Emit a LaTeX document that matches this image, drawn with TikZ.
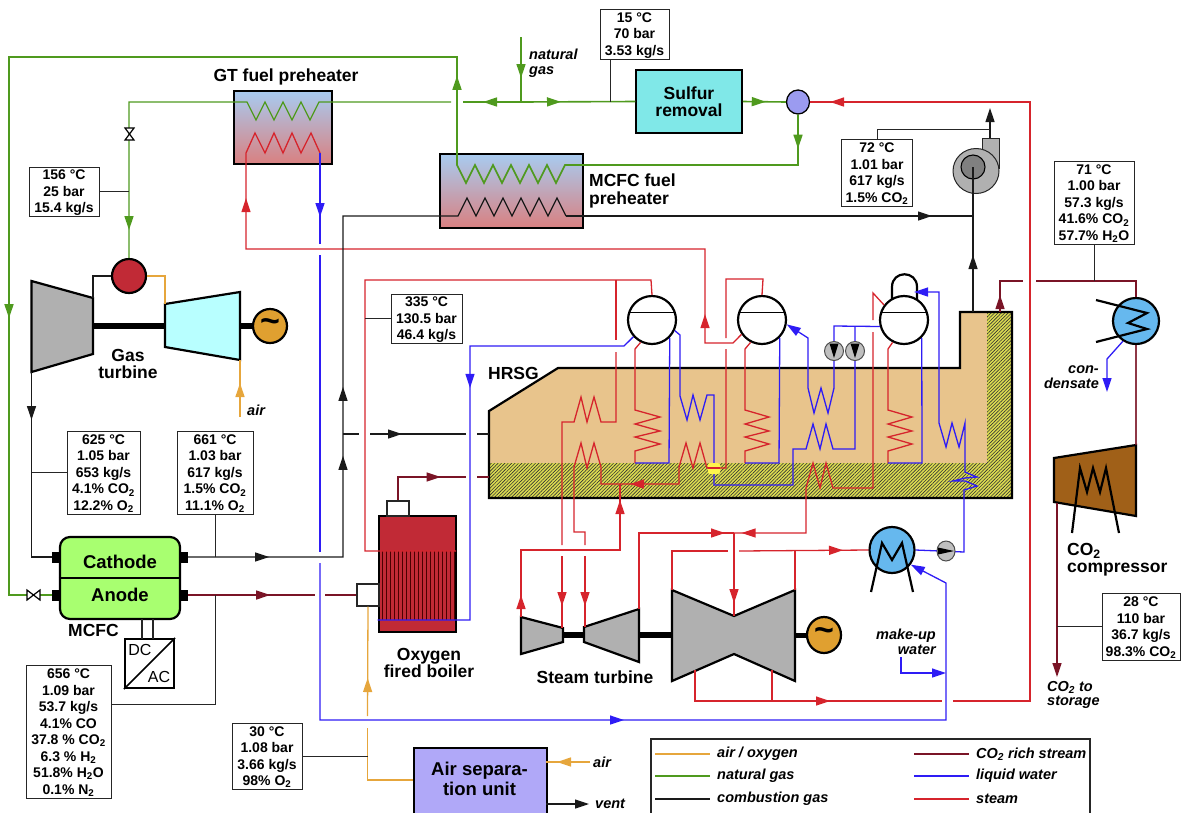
\documentclass[tikz,border=0pt]{standalone}
\usepackage{fontspec}
\setmainfont{Liberation Sans}
\usetikzlibrary{arrows.meta, calc, patterns.meta, decorations.markings, shapes.geometric}
\definecolor{airc}{HTML}{E6A63C}
\definecolor{gasc}{HTML}{4F9A1E}
\definecolor{combc}{HTML}{1A1A1A}
\definecolor{co2c}{HTML}{7A1426}
\definecolor{watc}{HTML}{2E1CF5}
\definecolor{stmc}{HTML}{D6242C}
\definecolor{tanc}{HTML}{E8C48C}
\definecolor{hatchc}{HTML}{DCDC50}
\definecolor{grayc}{HTML}{B0B0B0}
\definecolor{bluec}{HTML}{66B8EE}
\definecolor{boilc}{HTML}{C12A36}
\definecolor{sulfc}{HTML}{80E8E8}
\definecolor{turbc}{HTML}{B8FFFF}
\definecolor{cellc}{HTML}{A8FF70}
\definecolor{mixc}{HTML}{9B9BF0}
\definecolor{asuc}{HTML}{B0A8F8}
\definecolor{compc}{HTML}{A06018}
\definecolor{hxtop}{HTML}{A8CBF0}
\definecolor{hxbot}{HTML}{D98080}
\definecolor{genc}{HTML}{E0A030}
\newcommand{\lo}[1]{\textsubscript{#1}}
\begin{document}
\begin{tikzpicture}[x=1pt, y=-1pt,
  lbox/.style={draw=black!85, fill=white, line width=1pt, inner sep=0pt, align=center, text depth=0pt,
               font=\fontsize{14}{16.5}\selectfont\bfseries},
  lab/.style={font=\fontsize{17.5}{17.3}\selectfont\bfseries, align=center, inner sep=0pt},
  ital/.style={font=\fontsize{14.5}{14.5}\selectfont\bfseries\itshape, align=left, inner sep=0pt},
  eqp/.style={draw=black, line width=2.2pt},
  hx/.style={eqp, top color=hxtop, bottom color=hxbot, inner sep=0pt},
  drum/.style={eqp, circle, fill=white, minimum size=48pt, inner sep=0pt},
  pumpn/.style={draw=black!70, line width=1pt, circle, fill=black!25, minimum size=19pt, inner sep=0pt},
  gen/.style={eqp, ellipse, fill=genc, inner sep=0pt, font=\fontsize{34}{34}\selectfont\bfseries},
  port/.style={fill=black, inner sep=0pt, minimum width=8pt, minimum height=11pt},
  small/.style={draw=black!85, line width=1.2pt, fill=white, inner sep=0pt},
  airp/.style={color=airc, line width=1.3pt},
  gasp/.style={color=gasc, line width=1.3pt},
  combp/.style={color=combc, line width=1.2pt},
  co2p/.style={color=co2c, line width=1.3pt},
  watp/.style={color=watc, line width=1.3pt},
  stmp/.style={color=stmc, line width=1.3pt},
  link/.style={color=black!85, line width=1pt},
  endtip/.style={-{Triangle[length=14pt,width=9pt]}},
  tip at/.style={postaction={decorate,decoration={markings,mark=at position #1 with {\arrow{Triangle[length=14pt,width=9pt]}}}}}
]
\clip (0,0) rectangle (1182,812);
\useasboundingbox (0,0) rectangle (1182,812);

\fill[tanc] (489,411) -- (558,368) -- (960,368) -- (960,312) -- (1012,312) -- (1012,498) -- (489,498) -- cycle;
\path[preaction={fill=hatchc}, pattern={Lines[angle=45,distance=2.4pt,line width=.6pt]}, pattern color=black!80]
  (489,463) -- (987,463) -- (987,312) -- (1012,312) -- (1012,498) -- (489,498) -- cycle;
\draw[eqp] (489,411) -- (558,368) -- (960,368) -- (960,312) -- (1012,312) -- (1012,498) -- (489,498) -- cycle;
\node[lab, anchor=west] (thrsg) at (488,373) {HRSG};

\node[hx, minimum width=98pt, minimum height=73pt] (gtpre) at (283,127.5) {};
\node[hx, minimum width=143pt, minimum height=74pt] (mcpre) at (511.5,191) {};
\node[lab] (tgtpre) at (286,77) {GT fuel preheater};
\node[lab, anchor=west, align=left] (tmcpre) at (589,191) {MCFC fuel\\preheater};

\node[lab, draw=black, line width=1.5pt, fill=sulfc, minimum width=106pt, minimum height=63pt] (sulfur) at (689,101.5) {Sulfur\\removal};
\node[eqp, line width=1.3pt, ellipse, fill=mixc, minimum width=23pt, minimum height=24pt, inner sep=0pt] (mix) at (798,102) {};
\node[eqp, circle, fill=boilc, minimum size=34pt, inner sep=0pt] (cc) at (129,276) {};

\draw[eqp, fill=grayc] (31.5,281) -- (93,298) -- (93,354) -- (31.5,372) -- cycle;
\draw[eqp, fill=turbc] (165,304) -- (240,292) -- (240,360) -- (165,347) -- cycle;
\draw[line width=6pt] (93,326) -- (165,326);
\draw[line width=6pt] (240,326) -- (255,326);
\node[gen, circle, minimum size=34pt] (gtgen) at (270,326) {\raisebox{-2pt}{\textasciitilde}};
\node[lab] (tgt) at (128,364) {Gas\\turbine};

\node[drum] (d1) at (652,320) {};
\node[drum] (d2) at (762,320) {};
\draw[eqp] (892,300) -- (892,287) .. controls (892,270) and (917,270) .. (917,287) -- (917,300);
\node[drum] (d3) at (904,320) {};
\foreach \d in {d1,d2,d3} \draw[line width=1.6pt] (\d.163) -- (\d.17);

\draw[eqp, fill=grayc] (521,617) -- (563,628) -- (563,642) -- (521,654) -- cycle;
\draw[eqp, fill=grayc] (584,627) -- (639,609) -- (639,662) -- (584,642) -- cycle;
\draw[eqp, fill=grayc] (672,590) -- (734,616) -- (795,590) -- (795,681) -- (734,654) -- (672,681) -- cycle;
\draw[line width=6pt] (563,635) -- (584,635);
\draw[line width=6pt] (639,635) -- (672,635);
\draw[line width=5pt] (795,635) -- (808,635);
\node[gen, minimum width=34pt, minimum height=36pt] (stgen) at (824,635) {\raisebox{-2pt}{\textasciitilde}};
\node[lab] (tst) at (595,677) {Steam turbine};

\node[eqp, rounded corners=10pt, fill=cellc, minimum width=120pt, minimum height=82pt, inner sep=0pt] (mcfc) at (120,578) {};
\draw[line width=1.4pt] (mcfc.west) -- (mcfc.east);
\node[lab, font=\fontsize{18.5}{18}\selectfont\bfseries] (tcath) at (120,562) {Cathode};
\node[lab, font=\fontsize{18.5}{18}\selectfont\bfseries] (tan) at (120,595) {Anode};
\node[lab, anchor=west] (tmcfc) at (68,630) {MCFC};
\node[port] (pc1) at (56,557) {};
\node[port] (pc2) at (184,557) {};
\node[port] (pa1) at (56,595) {};
\node[port] (pa2) at (184,595) {};
\node[eqp, minimum size=49pt, inner sep=0pt] (dcac) at (149.5,663.5) {};
\draw[line width=1.6pt] (dcac.south west) -- (dcac.north east);
\node[font=\fontsize{16}{16}\selectfont, inner sep=0pt] (tdc) at (140,650) {DC};
\node[font=\fontsize{16}{16}\selectfont, inner sep=0pt] (tac) at (159,677) {AC};
\draw[black!85, line width=1.2pt] (142,619) -- (142,639) (153,619) -- (153,639);

\node[eqp, line width=2.6pt, fill=boilc, minimum width=77pt, minimum height=116pt, inner sep=0pt] (boiler) at (417.5,574) {};
\foreach \x in {382,386,...,454} \draw[black!70!red, line width=.9pt] (\x,551) -- (\x,620);
\node[small, minimum width=22pt, minimum height=15pt] (bltop) at (398,508.5) {};
\node[small, minimum width=22pt, minimum height=22pt] (blside) at (368,595) {};
\node[lab] (tboil) at (429,663) {Oxygen\\fired boiler};

\node[eqp, line width=1.5pt, fill=asuc, anchor=north west, minimum width=133pt, minimum height=80pt, inner sep=0pt] (asu) at (413,747) {};
\node[lab, font=\fontsize{18.5}{20}\selectfont\bfseries] (tasu) at (479.5,779) {Air separa-\\tion unit};

\draw[black!85, line width=1pt, fill=grayc] (982,138) rectangle (999,168);
\node[draw=black!85, line width=1pt, ellipse, fill=grayc, minimum width=46pt, minimum height=45pt, inner sep=0pt] (fan) at (976,171) {};
\node[draw=black, line width=1.1pt, circle, fill=black!50, minimum size=24pt, inner sep=0pt] (fani) at (973,167) {};
\node[eqp, circle, fill=bluec, minimum size=46pt, inner sep=0pt] (cool) at (1136,321) {};
\draw[eqp, fill=compc] (1054,458) -- (1136,445) -- (1136,516) -- (1054,502) -- cycle;
\node[lab, anchor=west, align=left] (tcomp) at (1067,560) {CO\lo{2}\\compressor};
\node[eqp, ellipse, fill=bluec, minimum width=45pt, minimum height=46pt, inner sep=0pt] (cond) at (892,550) {};

\draw[gasp, line width=1.6pt, tip at=34pt, tip at=614pt, tip at=1342pt] (mix.south) -- (798,165) -- (565,165) -- (556,183) -- (547,165) -- (538,183) -- (529,165) -- (520,183) -- (511,165) -- (502,183) -- (493,165) -- (484,183) -- (475,165) -- (466,183) -- (457,165) -- (457,57) -- (9,57) -- (9,595) -- (pa1.west);
\draw[gasp, tip at=41pt] (521,37) coordinate (ngin) -- (521,102) coordinate (ngj);
\draw[gasp, line width=1.6pt, tip at=40pt] (ngj) -- (sulfur.west);
\draw[gasp, line width=1.6pt, tip at=38pt] (ngj) -- (463,102);
\draw[gasp, tip at=539pt] (451,102) -- (319,102) -- (310,120) -- (301,102) -- (292,120) -- (283,102) -- (274,120) -- (265,102) -- (256,120) -- (247,102) -- (129,102) -- (cc.north);
\draw[gasp, line width=1.6pt, tip at=23pt] (sulfur.east) -- (mix.west);

\draw[stmp] (d1.north) -- (651,280) -- (365,280) -- (365,551) -- (456,551);
\draw[stmp] (616,280) -- (616,340);
\draw[stmp] (616,352) -- (616,422) -- (601,422) -- (594,397) -- (587,422) -- (581,397) -- (574,422) -- (562,422) -- (562,545);
\draw[stmp, tip at=50pt] (562,556) -- (562,628);
\draw[stmp, tip at=22pt, tip at=216pt] (521,617) -- (521,550) -- (620,550) -- (620,484);
\draw[stmp, tip at=66pt] (679,467) -- (679,484) -- (601,484) -- (601,467) -- (594,443) -- (587,468) -- (581,443) -- (574,467) -- (574,532) -- (585,532) -- (585,545);
\draw[stmp, tip at=50pt] (585,556) -- (585,627);
\draw[stmp] (679,467) -- (686,443) -- (693,468) -- (700,443) -- (707,468) -- (726,468) -- (726,349);
\draw[stmp] (726,338) -- (726,279) -- (763,279) -- (d2.north);
\draw[stmp, tip at=69pt, tip at=644pt] (d2.215) -- (733,343) -- (705,343) -- (705,249) -- (246,249) -- (246,153) -- (255,133) -- (265,153) -- (274,133) -- (283,153) -- (292,133) -- (301,153) -- (311,133) -- (320,153);
\draw[stmp] (d1.243) -- (635,349) -- (635,410) -- (660,417) -- (635,424) -- (660,431) -- (635,437) -- (660,444) -- (635,451) -- (635,463);
\draw[stmp] (d2.243) -- (745,349) -- (745,410) -- (769,417) -- (745,424) -- (769,431) -- (745,437) -- (769,444) -- (745,451) -- (745,463);
\draw[stmp] (d3.243) -- (888,349) -- (888,410) -- (912,417) -- (888,424) -- (912,431) -- (888,437) -- (912,444) -- (888,451) -- (888,463);
\draw[stmp] (d3.143) -- (873,293) -- (873,320);
\draw[stmp, tip at=409pt] (873,332) -- (873,488) -- (833,488) -- (826,463) -- (820,488) -- (813,463) -- (806,488) -- (806,533) -- (734,533) coordinate (lpin);
\draw[stmp, tip at=162pt] (639,609) -- (639,533) -- (lpin);
\draw[stmp, tip at=70pt] (lpin) -- (734,616);
\draw[stmp] (672,590) -- (672,551) -- (728,551);
\draw[stmp, tip at=104pt] (739,551) -- (cond.west);
\draw[stmp] (795,590) -- (795,551);
\draw[stmp, tip at=166pt] (695,670) -- (695,701) -- (942,701);
\draw[stmp] (772,670) -- (772,701);
\draw[stmp, tip at=876pt] (953,701) -- (1030,701) -- (1030,102) -- (mix.east);

\draw[watp] (d1.315) -- (669,463) -- (635,463);
\draw[watp] (d2.315) -- (779,463) -- (745,463);
\draw[watp] (d3.315) -- (922,463) -- (888,463);
\draw[watp, endtip] (cond.east) -- (964,552) -- (964,490) -- (977,486) -- (965,481) -- (953,481) -- (965,478) -- (977,477) -- (965,472) -- (965,423) -- (959,447) -- (952,423) -- (946,447) -- (939,423) -- (939,292) -- (914,292);
\draw[watp, endtip] (d3.195) -- (834,326) -- (834,388) -- (828,413) -- (821,388) -- (814,413) -- (808,388) -- (808,338) -- (d2.350);
\draw[watp] (855,326) -- (855,449) -- (833,449) -- (826,424) -- (820,449) -- (813,424) -- (806,449) -- (793,449) -- (793,485) -- (714,485) -- (714,395) -- (707,395) -- (700,420) -- (693,395) -- (687,420) -- (680,396) -- (680,335) -- (d1.335);
\draw[watp, tip at=209pt] (d1.222) -- (624,346) -- (470,346) -- (470,620) -- (boiler.west |- 0,620);
\draw[watp, tip at=64pt] (320,153) -- (320,244);
\draw[watp] (320,255) -- (320,552);
\draw[watp, endtip, tip at=461pt] (320,563) -- (320,720) -- (946,720) -- (946,583) -- (cond.-38);
\draw[watp, endtip] (901,657) -- (901,673) -- (946,673);
\draw[watp, endtip] (cool.237) -- (1107,359) -- (1107,392);
\fill[yellow!70, rounded corners=2pt] (708,463) rectangle (720,474);
\draw[stmp] (708,468) -- (720,468);

\draw[combp, tip at=48pt] (31.5,372) -- (31.5,557) -- (pc1.west);
\draw[combp, tip at=81pt, tip at=256pt, tip at=325pt] (pc2.east) -- (343,557) -- (343,216) -- (458,216) -- (467,198) -- (476,216) -- (485,198) -- (494,216) -- (503,198) -- (512,216) -- (521,198) -- (530,216) -- (539,198) -- (548,216) -- (557,198) -- (566,216);
\draw[combp, tip at=366pt] (566,216) -- (973,216) coordinate (fanj);
\draw[combp, tip at=57pt] (973,312) -- (fani.center);
\draw[combp, endtip] (990,138) -- (990,108);
\draw[combp] (343,434) -- (359,434);
\draw[combp, tip at=32pt] (370,434) -- (466,434);
\draw[combp] (477,434) -- (489,434);
\draw[combp] (cc.west) -- (93,276) -- (93,298);
\draw[combp, endtip] (546,804) -- (589,804);

\draw[co2p, tip at=82pt] (pa2.east) -- (315,595);
\draw[co2p] (325,595) -- (blside.west);
\draw[co2p, tip at=66pt] (bltop.north) -- (398,477) -- (466,477);
\draw[co2p] (477,477) -- (489,477);
\draw[co2p, tip at=17pt] (1000,312) -- (1000,281) -- (1023,281);
\draw[co2p] (1036,281) -- (1136,281) -- (cool.north);
\draw[co2p, opacity=.85] (cool.south) -- (1136,445);
\draw[co2p, endtip] (1057,503) -- (1057,677);

\draw[airp, tip at=38pt] (367.5,716) -- (blside.south);
\draw[airp] (asu.west |- 0,780) -- (367.5,780) -- (367.5,728);
\draw[airp, tip at=33pt, line width=1.6pt] (590,762) -- (546,762);
\draw[airp] (cc.east) -- (165,276) -- (165,304);
\draw[airp, tip at=34pt] (240,417) -- (240,360);

\node[pumpn] (pp1) at (834,351) {};
\node[pumpn] (pp2) at (855,351) {};
\node[pumpn, ellipse, minimum width=18pt, minimum height=20pt] (pp3) at (946,551) {};
\foreach \p in {pp1,pp2} \fill[black] ($(\p)+(-4.5,-7.5)$) -- ($(\p)+(4.5,-7.5)$) -- ($(\p)+(0,7)$) -- cycle;
\fill[black] ($(pp3)+(-8,-3.5)$) -- ($(pp3)+(-8,3.5)$) -- ($(pp3)+(8,0)$) -- cycle;

\draw[eqp] (1096,300) -- (1147,313) -- (1128,323) -- (1147,329) -- (1096,342);
\draw[eqp] (871,592) -- (882,543) -- (892,560) -- (902,543) -- (913,592);
\draw[eqp] (1072,533) -- (1080,468) -- (1087,492) -- (1093,468) -- (1100,492) -- (1106,468) -- (1119,533);

\draw[black, line width=1.2pt, fill=white] (125,128) -- (134,128) -- (125,140) -- (134,140) -- cycle;
\draw[black, line width=1.2pt, fill=white] (27,590) -- (27,600) -- (40,590) -- (40,600) -- cycle;

\node[lbox, minimum width=70pt, minimum height=49pt] (b156) at (64,191.5) {156 °C\\25 bar\\15.4 kg/s};
\node[lbox, minimum width=71pt, minimum height=49pt] (b335) at (426.5,318.5) {335 °C\\130.5 bar\\46.4 kg/s};
\node[lbox, minimum width=69pt, minimum height=50pt] (b15) at (634.5,34) {15 °C\\70 bar\\3.53 kg/s};
\node[lbox, minimum width=71pt, minimum height=67pt] (b72) at (877,172.5) {72 °C\\1.01 bar\\617 kg/s\\1.5\% CO\lo{2}};
\node[lbox, minimum width=80pt, minimum height=83pt] (b71) at (1094,202.5) {71 °C\\1.00 bar\\57.3 kg/s\\41.6\% CO\lo{2}\\57.7\% H\lo{2}O};
\node[lbox, minimum width=78pt, minimum height=67pt] (b28) at (1141,626.5) {28 °C\\110 bar\\36.7 kg/s\\98.3\% CO\lo{2}};
\node[lbox, minimum width=73pt, minimum height=83pt] (b625) at (103.5,472.5) {625 °C\\1.05 bar\\653 kg/s\\4.1\% CO\lo{2}\\12.2\% O\lo{2}};
\node[lbox, minimum width=76pt, minimum height=83pt] (b661) at (215,472.5) {661 °C\\1.03 bar\\617 kg/s\\1.5\% CO\lo{2}\\11.1\% O\lo{2}};
\node[lbox, minimum width=85pt, minimum height=133pt] (b656) at (68.5,731.5) {656 °C\\1.09 bar\\53.7 kg/s\\4.1\% CO\\37.8 \% CO\lo{2}\\6.3 \% H\lo{2}\\51.8\% H\lo{2}O\\0.1\% N\lo{2}};
\node[lbox, minimum width=70pt, minimum height=66pt] (b30) at (267,756) {30 °C\\1.08 bar\\3.66 kg/s\\98\% O\lo{2}};

\draw[link] (b156.east) -- (129,191.5);
\draw[link] (b335.west) -- (365,318.5);
\draw[link] (b625.west) -- (31.5,472.5);
\draw[link] (b661.south) -- (215,557);
\draw[link] (b656.east |- 0,704) -- (215,704) -- (215,595);
\draw[link] (b30.east) -- (367.5,756);
\draw[link] (b71.south) -- (1094,281);
\draw[link] (b28.west) -- (1057,626.5);
\draw[link] (b72.north) -- (877,129) -- (990,129);
\draw[link] ([xshift=-24.5pt]b15.south) -- (610,102);

\node[ital, anchor=north west] (tng) at (529,49) {natural\\gas};
\node[ital, anchor=west] (tair1) at (247,410) {air};
\node[ital, anchor=west] (tair2) at (593,762) {air};
\node[ital, anchor=west] (tvent) at (595,804) {vent};
\node[ital, align=right, anchor=east] (tcon) at (1099,377) {con-\\densate};
\node[ital, align=right, anchor=east] (tmake) at (936,642) {make-up\\water};
\node[ital, anchor=north west] (tsto) at (1047,681) {CO\lo{2} to\\storage};

\draw[black!85, line width=1.2pt] (651,739) rectangle (1090,830);
\foreach \n/\p/\x/\y/\t in {la/airp/655/754/{air / oxygen}, lg/gasp/655/776/natural gas, lb/combp/655/799/combustion gas,
    lc/co2p/914/754/CO\lo{2} rich stream, lw/watp/914/776/liquid water, ls/stmp/914/799/steam} {
  \coordinate (\n) at (\x,\y);
  \draw[\p] (\n) -- ++(55,0);
  \node[ital, anchor=west] (t\n) at ($(\n)+(62,0)$) {\t};
}
\end{tikzpicture}
\end{document}
